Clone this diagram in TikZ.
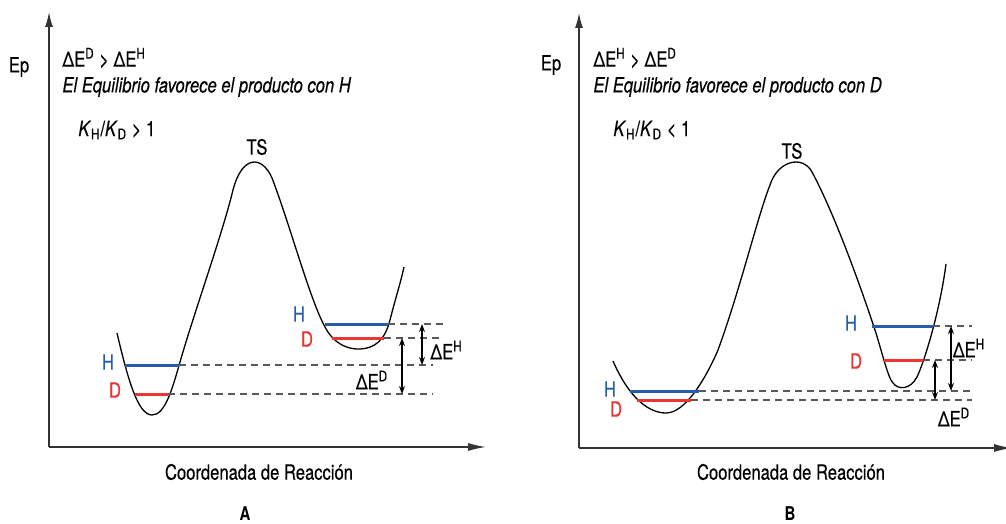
\documentclass[tikz,border=0pt]{standalone}
\usepackage{fontspec}
\setmainfont{TeX Gyre Heros}[FakeStretch=0.79,
  UprightFeatures={FakeBold=0.4},ItalicFeatures={FakeBold=0.4}]
\usepackage{tikz}
\usetikzlibrary{arrows.meta}

\definecolor{levelH}{RGB}{38,92,170}
\definecolor{levelD}{RGB}{236,52,52}

\begin{document}
\begin{tikzpicture}[x=0.5pt,y=-0.5pt,
  txt/.style={inner sep=0pt,font=\fontsize{10.5}{12}\selectfont},
  lbl/.style={inner sep=0pt,font=\fontsize{9.5}{11}\selectfont\bfseries},
  axis/.style={draw=black!80,line width=0.7pt},
  pes/.style={line width=0.65pt},
  lvlH/.style={draw=levelH,line width=1.5pt},
  lvlD/.style={draw=levelD,line width=1.5pt},
  guide/.style={draw=black!65,line width=0.55pt,dash pattern=on 3.5pt off 2.5pt},
  gap/.style={line width=0.55pt,{Stealth[length=4pt,width=3pt]}-{Stealth[length=4pt,width=3pt]}}]

\useasboundingbox (0,0) rectangle (1006,524);

%%%%%%%%%%%%%%%% panel A %%%%%%%%%%%%%%%%
% axes
\coordinate (oA) at (49,447);
\coordinate (yA) at (49,12);
\coordinate (xA) at (486,447);
\draw [axis,-{Latex[length=7.5pt,width=4pt]}] (oA) -- (yA) ;
\draw [axis,-{Latex[length=9pt,width=4pt]}] (oA) -- (xA) ;

% energy curve
\draw [pes] (117,333) .. controls (128,380) and (138,415) .. (152,415)
  .. controls (165,415) and (172,390) .. (180,362)
  .. controls (195,310) and (222,235) .. (233,190)
  .. controls (242,155) and (262,155) .. (272,178)
  .. controls (290,225) and (310,300) .. (325,327)
  .. controls (335,346) and (350,349) .. (358,349)
  .. controls (375,349) and (385,340) .. (390,320)
  .. controls (395,300) and (400,285) .. (404,267) ;

% levels
\coordinate (aH1) at (125,365);  \coordinate (aH1r) at (179,365);
\coordinate (aD1) at (135,394);  \coordinate (aD1r) at (168,394);
\coordinate (aH2) at (325,324);  \coordinate (aH2r) at (388,324);
\coordinate (aD2) at (332,338);  \coordinate (aD2r) at (384,338);
\draw [lvlH] (aH1) -- (aH1r) ;
\draw [lvlD] (aD1) -- (aD1r) ;
\draw [lvlH] (aH2) -- (aH2r) ;
\draw [lvlD] (aD2) -- (aD2r) ;

% dashed guides
\coordinate (gA1) at (443,324);
\coordinate (gA2) at (443,338);
\coordinate (gA3) at (433,365);
\coordinate (gA4) at (433,394);
\draw [guide] (aH2r) -- (gA1) ;
\draw [guide] (aD2r) -- (gA2) ;
\draw [guide] (aH1r) -- (gA3) ;
\draw [guide] (aD1r) -- (gA4) ;

% energy gaps
\draw [gap] (422,324) -- (422,365) ;
\draw [gap] (402,338) -- (402,394) ;

% Text Node
\node [txt] (epA) at (19,67) {Ep};
\node [txt,anchor=west] (relA) at (62,58) {ΔE\textsuperscript{D} > ΔE\textsuperscript{H}};
\node [txt,anchor=west] (eqA) at (62,87) {\itshape El Equilibrio favorece el producto con H};
\node [txt,anchor=west] (kA) at (78,130) {\textit{K}\textsubscript{H}/\textit{K}\textsubscript{D} > 1};
\node [txt] (tsA) at (257,147) {TS};
\node [txt,text=levelH] (hA1) at (108,362) {H};
\node [txt,text=levelD] (dA1) at (115,390) {D};
\node [txt,text=levelH] (hA2) at (299,314) {H};
\node [txt,text=levelD] (dA2) at (307,339) {D};
\node [txt,anchor=west] (deHA) at (430,350) {ΔE\textsuperscript{H}};
\node [txt] (deDA) at (372,380) {ΔE\textsuperscript{D}};
\node [txt] (rcA) at (259,472) {Coordenada de Reacción};
\node [lbl] (capA) at (245,514) {A};

%%%%%%%%%%%%%%%% panel B %%%%%%%%%%%%%%%%
% axes
\coordinate (oB) at (579,448);
\coordinate (yB) at (579,13);
\coordinate (xB) at (1012,448);
\draw [axis,-{Latex[length=7.5pt,width=4pt]}] (oB) -- (yB) ;
\draw [axis,-{Latex[length=9pt,width=4pt]}] (oB) -- (xB) ;

% energy curve
\draw [pes] (613,361) .. controls (630,400) and (650,413) .. (666,413)
  .. controls (685,413) and (705,380) .. (718,350)
  .. controls (740,290) and (758,215) .. (770,185)
  .. controls (778,160) and (803,155) .. (812,172)
  .. controls (835,215) and (860,285) .. (875,330)
  .. controls (882,352) and (888,378) .. (893,383)
  .. controls (898,390) and (910,390) .. (917,377)
  .. controls (925,360) and (940,310) .. (946,264) ;

% levels
\coordinate (bH1) at (630,391);  \coordinate (bH1r) at (699,391);
\coordinate (bD1) at (637,400);  \coordinate (bD1r) at (691,400);
\coordinate (bH2) at (872,326);  \coordinate (bH2r) at (933,326);
\coordinate (bD2) at (884,360);  \coordinate (bD2r) at (923,360);
\draw [lvlH] (bH1) -- (bH1r) ;
\draw [lvlD] (bD1) -- (bD1r) ;
\draw [lvlH] (bH2) -- (bH2r) ;
\draw [lvlD] (bD2) -- (bD2r) ;

% dashed guides
\coordinate (gB1) at (972,326);
\coordinate (gB2) at (972,360);
\coordinate (gB3) at (972,391);
\coordinate (gB4) at (972,400);
\draw [guide] (bH2r) -- (gB1) ;
\draw [guide] (bD2r) -- (gB2) ;
\draw [guide] (bH1r) -- (gB3) ;
\draw [guide] (bD1r) -- (gB4) ;

% energy gaps
\draw [gap] (951,326) -- (951,391) ;
\draw [gap] (935,360) -- (935,400) ;

% Text Node
\node [txt] (epB) at (551,65) {Ep};
\node [txt,anchor=west] (relB) at (593,58) {ΔE\textsuperscript{H} > ΔE\textsuperscript{D}};
\node [txt,anchor=west] (eqB) at (593,87) {\itshape El Equilibrio favorece el producto con D};
\node [txt,anchor=west] (kB) at (613,130) {\textit{K}\textsubscript{H}/\textit{K}\textsubscript{D} < 1};
\node [txt] (tsB) at (792,151) {TS};
\node [txt,text=levelH] (hB1) at (610,389) {H};
\node [txt,text=levelD] (dB1) at (616,409) {D};
\node [txt,text=levelH] (hB2) at (851,323) {H};
\node [txt,text=levelD] (dB2) at (856,361) {D};
\node [txt] (deHB) at (969,348) {ΔE\textsuperscript{H}};
\node [txt] (deDB) at (954,417) {ΔE\textsuperscript{D}};
\node [txt] (rcB) at (791,472) {Coordenada de Reacción};
\node [lbl] (capB) at (790,514) {B};
\end{tikzpicture}
\end{document}
